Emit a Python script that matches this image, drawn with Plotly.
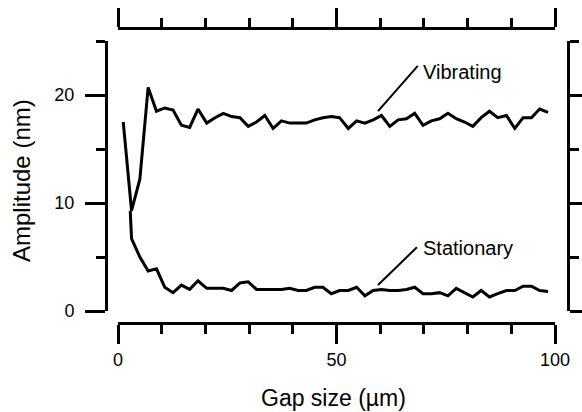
import plotly.graph_objects as go

# ---- data ----
gap_vib = [1.2, 3.1, 5.0, 6.9, 8.8, 10.7, 12.6, 14.5, 16.4, 18.3, 20.3, 22.2, 24.1, 26.0, 27.9,
           29.8, 31.7, 33.6, 35.5, 37.4, 39.3, 41.2, 43.1, 45.0, 46.9, 48.8, 50.7, 52.7, 54.6,
           56.5, 58.4, 60.3, 62.2, 64.1, 66.0, 67.9, 69.8, 71.7, 73.6, 75.5, 77.4, 79.3, 81.2,
           83.1, 85.0, 86.9, 88.9, 90.8, 92.7, 94.6, 96.5, 98.4]
amp_vib = [17.5, 9.3, 12.2, 20.7, 18.5, 18.8, 18.6, 17.2, 17.0, 18.7, 17.4, 17.9, 18.3, 18.0, 17.9,
           17.1, 17.5, 18.1, 16.9, 17.6, 17.4, 17.4, 17.4, 17.7, 17.9, 18.0, 17.9, 16.9, 17.6,
           17.4, 17.7, 18.1, 17.1, 17.7, 17.8, 18.3, 17.2, 17.6, 17.8, 18.3, 17.8, 17.5, 17.1,
           17.9, 18.5, 17.9, 18.1, 16.9, 17.9, 17.9, 18.7, 18.4]

gap_sta = [2.8, 3.1, 5.0, 6.9, 8.8, 10.7, 12.6, 14.5, 16.4, 18.3, 20.3, 22.2, 24.1, 26.0, 27.9,
           29.8, 31.7, 33.6, 35.5, 37.4, 39.3, 41.2, 43.1, 45.0, 46.9, 48.8, 50.7, 52.7, 54.6,
           56.5, 58.4, 60.3, 62.2, 64.1, 66.0, 67.9, 69.8, 71.7, 73.6, 75.5, 77.4, 79.3, 81.2,
           83.1, 85.0, 86.9, 88.9, 90.8, 92.7, 94.6, 96.5, 98.4]
amp_sta = [9.3, 6.7, 5.0, 3.7, 3.9, 2.2, 1.7, 2.4, 2.0, 2.8, 2.1, 2.1, 2.1, 1.9, 2.6,
           2.7, 2.0, 2.0, 2.0, 2.0, 2.1, 1.9, 1.9, 2.2, 2.2, 1.6, 1.9, 1.9, 2.2,
           1.4, 1.9, 2.0, 1.9, 1.9, 2.0, 2.2, 1.6, 1.6, 1.7, 1.4, 2.1, 1.7, 1.3,
           1.9, 1.3, 1.6, 1.9, 1.9, 2.3, 2.3, 1.9, 1.8]

label_names = ["Vibrating", "Stationary"]
label_x = [69.3, 69.3]
label_y = [22.1, 5.8]
leader_x0 = [59.5, 59.5]
leader_y0 = [18.5, 2.4]
leader_x1 = [68.6, 68.4]
leader_y1 = [22.7, 5.9]

x_title = "Gap size (µm)"
y_title = "Amplitude (nm)"
x_ticks = [0, 50, 100]
y_ticks = [0, 10, 20]

# ---- figure ----
W, H = 582, 412
FONT = "Liberation Sans, Arial, Helvetica, sans-serif"

def fx(px):
    return px / W

def fy(py):
    return 1 - py / H

fig = go.Figure()
fig.add_trace(go.Scatter(x=gap_vib, y=amp_vib, mode="lines",
                         line=dict(color="black", width=3), showlegend=False,
                         xaxis="x", yaxis="y"))
fig.add_trace(go.Scatter(x=gap_sta, y=amp_sta, mode="lines",
                         line=dict(color="black", width=3), showlegend=False,
                         xaxis="x", yaxis="y"))
# carrier traces for the frame axes (top and right)
fig.add_trace(go.Scatter(x=[None], y=[None], mode="lines", showlegend=False,
                         xaxis="x2", yaxis="y", hoverinfo="skip"))
fig.add_trace(go.Scatter(x=[None], y=[None], mode="lines", showlegend=False,
                         xaxis="x", yaxis="y2", hoverinfo="skip"))

x_dom = [fx(118), fx(555)]
y_dom = [fy(311), fy(41)]

common_x = dict(range=[0, 100], domain=x_dom, showgrid=False, zeroline=False,
                showline=True, linecolor="black", linewidth=3,
                ticks="outside", tickvals=x_ticks, ticklen=19, tickwidth=3,
                tickcolor="black",
                minor=dict(dtick=10, tick0=0, ticks="outside", ticklen=9,
                           tickwidth=3, tickcolor="black", showgrid=False),
                fixedrange=True)
common_y = dict(range=[0, 25], domain=y_dom, showgrid=False, zeroline=False,
                showline=True, linecolor="black", linewidth=3,
                ticks="outside", tickvals=y_ticks, ticklen=20, tickwidth=3,
                tickcolor="black",
                minor=dict(dtick=5, tick0=0, ticks="outside", ticklen=9,
                           tickwidth=3, tickcolor="black", showgrid=False),
                fixedrange=True)

fig.update_layout(
    width=W, height=H,
    margin=dict(l=0, r=0, t=0, b=0),
    paper_bgcolor="white", plot_bgcolor="white",
    font=dict(family=FONT, size=18, color="black"),
    xaxis=dict(**common_x, anchor="free", position=fy(323), side="bottom",
               showticklabels=True, tickfont=dict(size=18), automargin=False,
               ticklabelstandoff=0),
    xaxis2=dict(**common_x, anchor="free", position=fy(28), side="top",
                overlaying="x", showticklabels=False, automargin=False),
    yaxis=dict(**common_y, anchor="free", position=fx(106), side="left",
               showticklabels=True, tickfont=dict(size=18), automargin=False,
               ticklabelstandoff=7, ticklabelshift=0),
    yaxis2=dict(**common_y, anchor="free", position=fx(568), side="right",
                overlaying="y", showticklabels=False, automargin=False),
)

for i, name in enumerate(label_names):
    fig.add_shape(type="line", xref="x", yref="y",
                  x0=leader_x0[i], y0=leader_y0[i], x1=leader_x1[i], y1=leader_y1[i],
                  line=dict(color="black", width=2))
    fig.add_annotation(x=label_x[i], y=label_y[i], xref="x", yref="y",
                       text=name, showarrow=False, xanchor="left", yanchor="middle",
                       font=dict(family=FONT, size=20, color="black"))

fig.add_annotation(x=fx(333), y=fy(398), xref="paper", yref="paper",
                   text=x_title, showarrow=False, xanchor="center", yanchor="middle",
                   font=dict(family=FONT, size=23, color="black"))
fig.add_annotation(x=fx(21), y=fy(181), xref="paper", yref="paper",
                   text=y_title, showarrow=False, xanchor="center", yanchor="middle",
                   textangle=-90, font=dict(family=FONT, size=24, color="black"))

fig.write_html("out.html", config={"displayModeBar": False},
               post_script="document.body.style.margin='0px';document.body.style.overflow='hidden';")
